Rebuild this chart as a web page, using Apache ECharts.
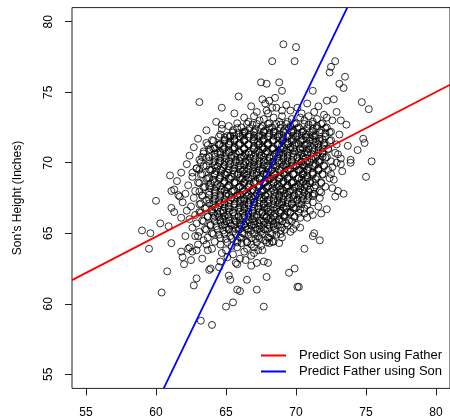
<!DOCTYPE html>
<html>
<head>
<meta charset="utf-8">
<script src="https://cdn.jsdelivr.net/npm/echarts@6/dist/echarts.min.js"></script>
<style>
  html, body { margin: 0; padding: 0; background: #fff; }
  #chart { width: 450px; height: 419px; }
</style>
</head>
<body>
<div id="chart"></div>
<script>
// father / son heights (inches)
const upperPoints = [
  [69.1, 78.4], [70.0, 78.2], [68.3, 77.2], [69.9, 77.2], [72.8, 77.2], [72.5, 76.8],
  [72.4, 76.4], [73.5, 76.1], [67.5, 75.7], [67.9, 75.6], [68.8, 75.7], [73.1, 75.6],
  [73.4, 75.3], [69.0, 75.1], [71.2, 75.1], [65.9, 74.7], [68.5, 74.6], [67.6, 74.5],
  [68.1, 74.4], [67.8, 74.2], [72.7, 74.5], [72.2, 74.4], [74.7, 74.3], [75.2, 73.8],
  [63.1, 74.3], [64.7, 73.9], [67.9, 73.7], [68.3, 73.9], [68.6, 73.9], [69.0, 73.7],
  [64.7, 72.7], [64.7, 72.4], [66.2, 72.1], [65.3, 71.9], [73.2, 73.0]
]
const rightPoints = [
  [74.8, 71.7], [74.9, 71.4], [74.4, 70.9], [73.9, 70.2], [73.9, 70.0], [75.4, 70.1],
  [75.0, 69.0], [73.2, 70.3], [73.2, 69.9], [72.6, 69.7], [72.5, 69.2], [73.0, 68.0],
  [73.4, 67.8], [72.8, 67.6], [71.2, 67.8], [71.8, 67.9], [72.2, 66.7], [71.8, 66.4],
  [71.2, 66.3], [70.8, 66.1], [70.3, 65.4], [71.3, 65.0], [71.2, 64.8], [71.7, 64.5],
  [70.6, 63.9], [70.2, 61.2]
]
const lowerPoints = [
  [68.8, 64.3], [69.0, 64.7], [68.3, 64.4], [69.9, 62.5], [69.5, 62.2], [70.1, 61.2],
  [67.9, 61.9], [67.2, 61.0], [67.7, 59.8], [65.0, 59.8], [65.5, 60.1], [64.0, 58.5],
  [65.8, 61.0], [66.0, 60.9], [66.5, 61.7], [65.2, 62.0], [65.3, 61.7], [63.9, 62.5],
  [64.5, 62.6], [65.8, 62.8], [66.8, 62.7], [67.2, 62.9], [67.7, 63.0], [68.0, 62.9],
  [67.6, 63.8], [67.0, 64.0]
]
const leftPoints = [
  [59.5, 63.9], [60.8, 62.3], [60.4, 60.8], [62.9, 61.8], [62.7, 61.3], [63.2, 58.8],
  [61.1, 64.3], [61.8, 63.7], [61.9, 63.3], [62.0, 62.8], [62.3, 63.9], [62.4, 64.0],
  [62.6, 63.7], [63.0, 64.2], [62.9, 63.8], [63.6, 64.2], [63.7, 63.8], [63.3, 63.2],
  [62.5, 63.1], [62.1, 64.8], [63.0, 64.8], [63.8, 62.4], [61.0, 69.1], [60.0, 67.3],
  [61.1, 68.0], [61.6, 67.7], [61.7, 67.6], [61.1, 66.8], [61.3, 66.5], [60.3, 65.7],
  [60.9, 65.5], [59.0, 65.2], [59.6, 65.0], [63.3, 70.4], [63.8, 70.9], [62.9, 69.6],
  [62.6, 69.3], [63.1, 69.5], [61.8, 66.1]
]
// dense middle of the cloud, outer layer
const coreOuter = [
  [66.8, 74.0], [69.3, 74.1], [70.1, 73.9], [71.6, 74.0], [70.8, 74.2],
  [65.6, 73.5], [67.2, 73.6], [68.0, 73.5], [69.6, 73.7], [70.4, 73.5], [71.3, 73.6], [72.0, 73.4], [72.9, 73.6],
  [66.3, 73.2], [67.0, 73.3], [67.7, 73.1], [68.4, 73.2], [69.0, 73.3], [69.7, 73.1], [70.3, 73.2], [70.9, 73.3], [71.5, 73.1], [72.2, 73.2],
  [64.3, 72.9], [65.8, 72.8], [66.6, 72.9], [67.4, 73.0], [68.1, 72.8], [68.8, 72.9], [69.4, 72.9], [70.0, 72.8], [70.6, 73.0], [71.2, 72.9], [71.9, 72.8], [72.6, 73.0],
  [65.2, 72.6], [66.1, 72.5], [66.9, 72.7], [67.6, 72.6], [68.3, 72.5], [68.9, 72.7], [69.6, 72.6], [70.2, 72.5], [70.9, 72.7], [71.5, 72.6], [72.2, 72.5], [73.6, 72.7],
  [63.6, 72.3], [65.5, 72.3], [66.4, 72.2], [67.1, 72.4], [67.8, 72.3], [68.5, 72.2], [69.2, 72.4], [69.8, 72.3], [70.5, 72.2], [71.2, 72.4], [71.8, 72.3], [72.5, 72.2],
  [64.6, 72.0], [65.1, 71.9], [65.9, 72.1], [66.7, 72.0], [67.4, 71.9], [68.1, 72.1], [68.8, 72.0], [69.4, 71.9], [70.1, 72.1], [70.7, 72.0], [71.4, 71.9], [72.1, 72.1], [73.1, 72.0],
  [63.0, 71.7], [64.0, 71.6], [64.9, 71.8], [65.6, 71.7], [66.3, 71.6], [67.0, 71.8], [67.7, 71.7], [68.4, 71.6], [69.1, 71.8], [69.7, 71.7], [70.4, 71.6], [71.0, 71.8], [71.7, 71.7], [72.5, 71.6],
  [63.6, 71.4], [64.5, 71.3], [65.3, 71.5], [66.0, 71.4], [66.6, 71.3], [67.3, 71.5], [68.0, 71.4], [68.7, 71.3], [69.4, 71.5], [70.0, 71.4], [70.7, 71.3], [71.4, 71.5], [72.0, 71.4], [72.9, 71.3],
  [62.7, 71.1], [64.1, 71.0], [64.8, 71.2], [65.6, 71.1], [66.3, 71.0], [67.0, 71.2], [67.6, 71.1], [68.3, 71.0], [69.0, 71.2], [69.6, 71.1], [70.3, 71.0], [71.0, 71.2], [71.6, 71.1], [72.3, 71.0], [73.7, 71.2],
  [63.4, 70.8], [64.4, 70.7], [65.2, 70.9], [65.9, 70.8], [66.6, 70.7], [67.3, 70.9], [67.9, 70.8], [68.6, 70.7], [69.3, 70.9], [69.9, 70.8], [70.6, 70.7], [71.3, 70.9], [71.9, 70.8], [72.8, 70.7],
  [62.4, 70.5], [63.8, 70.4], [64.6, 70.6], [65.4, 70.5], [66.1, 70.4], [66.8, 70.6], [67.5, 70.5], [68.1, 70.4], [68.8, 70.6], [69.4, 70.5], [70.1, 70.4], [70.8, 70.6], [71.5, 70.5], [72.2, 70.4], [73.0, 70.6],
  [63.1, 70.2], [64.2, 70.1], [65.0, 70.3], [65.7, 70.2], [66.4, 70.1], [67.1, 70.3], [67.7, 70.2], [68.4, 70.1], [69.1, 70.3], [69.7, 70.2], [70.4, 70.1], [71.1, 70.3], [71.7, 70.2], [72.5, 70.1],
  [62.2, 69.9], [63.6, 69.8], [64.5, 70.0], [65.3, 69.9], [66.0, 69.8], [66.7, 70.0], [67.3, 69.9], [68.0, 69.8], [68.7, 70.0], [69.3, 69.9], [70.0, 69.8], [70.7, 70.0], [71.4, 69.9], [72.0, 69.8], [72.9, 70.0],
  [62.9, 69.6], [64.0, 69.5], [64.8, 69.7], [65.6, 69.6], [66.3, 69.5], [67.0, 69.7], [67.6, 69.6], [68.3, 69.5], [69.0, 69.7], [69.6, 69.6], [70.3, 69.5], [70.9, 69.7], [71.6, 69.6], [72.3, 69.5],
  [61.8, 69.3], [63.3, 69.2], [64.3, 69.4], [65.1, 69.3], [65.9, 69.2], [66.5, 69.4], [67.2, 69.3], [67.9, 69.2], [68.5, 69.4], [69.2, 69.3], [69.8, 69.2], [70.5, 69.4], [71.2, 69.3], [71.9, 69.2], [73.3, 69.4],
  [62.6, 69.0], [63.7, 68.9], [64.6, 69.1], [65.4, 69.0], [66.2, 68.9], [66.9, 69.1], [67.5, 69.0], [68.2, 68.9], [68.9, 69.1], [69.5, 69.0], [70.2, 68.9], [70.8, 69.1], [71.5, 69.0], [72.4, 68.9],
  [61.5, 68.7], [63.0, 68.6], [64.1, 68.8], [64.9, 68.7], [65.7, 68.6], [66.4, 68.8], [67.1, 68.7], [67.8, 68.6], [68.4, 68.8], [69.1, 68.7], [69.7, 68.6], [70.4, 68.8], [71.0, 68.7], [71.8, 68.6], [72.7, 68.8],
  [62.3, 68.4], [63.5, 68.3], [64.4, 68.5], [65.2, 68.4], [66.0, 68.3], [66.7, 68.5], [67.4, 68.4], [68.0, 68.3], [68.7, 68.5], [69.4, 68.4], [70.0, 68.3], [70.7, 68.5], [71.4, 68.4], [72.1, 68.3],
  [61.3, 68.1], [62.8, 68.0], [63.9, 68.2], [64.7, 68.1], [65.5, 68.0], [66.2, 68.2], [66.9, 68.1], [67.6, 68.0], [68.3, 68.2], [68.9, 68.1], [69.6, 68.0], [70.3, 68.2], [71.0, 68.1], [71.7, 68.0], [72.6, 68.2],
  [62.1, 67.8], [63.3, 67.7], [64.2, 67.9], [65.0, 67.8], [65.8, 67.7], [66.5, 67.9], [67.2, 67.8], [67.8, 67.7], [68.5, 67.9], [69.2, 67.8], [69.9, 67.7], [70.6, 67.9], [71.3, 67.8],
  [62.7, 67.5], [63.8, 67.4], [64.6, 67.6], [65.4, 67.5], [66.1, 67.4], [66.8, 67.6], [67.5, 67.5], [68.1, 67.4], [68.8, 67.6], [69.5, 67.5], [70.1, 67.4], [70.9, 67.6], [71.7, 67.5],
  [61.9, 67.2], [63.2, 67.1], [64.1, 67.3], [64.9, 67.2], [65.6, 67.1], [66.3, 67.3], [67.0, 67.2], [67.7, 67.1], [68.4, 67.3], [69.0, 67.2], [69.7, 67.1], [70.4, 67.3], [71.2, 67.2],
  [62.5, 66.9], [63.6, 66.8], [64.5, 67.0], [65.2, 66.9], [66.0, 66.8], [66.6, 67.0], [67.3, 66.9], [68.0, 66.8], [68.7, 67.0], [69.3, 66.9], [70.0, 66.8], [70.8, 67.0], [71.6, 66.9],
  [62.2, 66.6], [63.1, 66.5], [64.0, 66.7], [64.8, 66.6], [65.5, 66.5], [66.3, 66.7], [66.9, 66.6], [67.6, 66.5], [68.2, 66.7], [68.9, 66.6], [69.6, 66.5], [70.3, 66.7], [71.0, 66.6],
  [62.8, 66.3], [63.7, 66.2], [64.4, 66.4], [65.1, 66.3], [65.9, 66.2], [66.6, 66.4], [67.2, 66.3], [67.9, 66.2], [68.5, 66.4], [69.2, 66.3], [69.9, 66.2], [70.6, 66.4],
  [62.4, 66.0], [63.3, 65.9], [64.1, 66.1], [64.8, 66.0], [65.6, 65.9], [66.2, 66.1], [66.9, 66.0], [67.5, 65.9], [68.2, 66.1], [68.8, 66.0], [69.5, 65.9], [70.3, 66.1],
  [62.9, 65.7], [63.9, 65.6], [64.6, 65.8], [65.3, 65.7], [66.0, 65.6], [66.7, 65.8], [67.3, 65.7], [68.0, 65.6], [68.6, 65.8], [69.3, 65.7], [70.0, 65.6],
  [62.6, 65.4], [63.5, 65.3], [64.3, 65.5], [65.0, 65.4], [65.7, 65.3], [66.4, 65.5], [67.1, 65.4], [67.7, 65.3], [68.4, 65.5], [69.0, 65.4], [69.8, 65.3],
  [63.1, 65.1], [64.0, 65.0], [64.8, 65.2], [65.5, 65.1], [66.2, 65.0], [66.8, 65.2], [67.5, 65.1], [68.2, 65.0], [68.9, 65.2], [69.6, 65.1],
  [62.8, 64.8], [63.7, 64.7], [64.5, 64.9], [65.3, 64.8], [66.0, 64.7], [66.6, 64.9], [67.3, 64.8], [68.0, 64.7], [68.6, 64.9],
  [63.4, 64.5], [64.2, 64.4], [65.0, 64.6], [65.8, 64.5], [66.5, 64.4], [67.1, 64.6], [67.8, 64.5], [68.4, 64.4],
  [64.6, 64.2], [65.4, 64.1], [66.1, 64.3], [66.8, 64.2], [67.5, 64.1], [68.1, 64.3],
  [64.0, 63.9], [65.0, 63.8], [65.8, 64.0], [66.5, 63.9], [67.3, 63.8],
  [64.7, 63.6], [65.5, 63.5], [66.3, 63.7], [67.0, 63.6],
  [65.1, 63.3], [66.0, 63.2], [66.8, 63.4],
  [64.6, 63.0], [65.7, 62.9], [66.4, 63.1]
]
// dense middle of the cloud, inner layer
const coreInner = [
  [66.5, 72.75], [67.2, 72.75], [68.0, 72.75], [68.6, 72.75], [69.3, 72.75], [69.9, 72.75], [70.6, 72.75], [71.2, 72.75], [71.8, 72.75],
  [65.8, 72.45], [66.7, 72.45], [67.5, 72.45], [68.1, 72.45], [68.9, 72.45], [69.5, 72.45], [70.1, 72.45], [70.8, 72.45], [71.5, 72.45], [72.1, 72.45],
  [65.5, 72.15], [66.3, 72.15], [67.0, 72.15], [67.7, 72.15], [68.4, 72.15], [69.1, 72.15], [69.7, 72.15], [70.4, 72.15], [71.0, 72.15], [71.7, 72.15], [72.4, 72.15],
  [64.5, 71.85], [65.3, 71.85], [66.0, 71.85], [66.6, 71.85], [67.3, 71.85], [68.0, 71.85], [68.7, 71.85], [69.4, 71.85], [70.0, 71.85], [70.7, 71.85], [71.3, 71.85], [72.1, 71.85],
  [64.1, 71.55], [64.9, 71.55], [65.6, 71.55], [66.3, 71.55], [67.0, 71.55], [67.6, 71.55], [68.3, 71.55], [69.0, 71.55], [69.7, 71.55], [70.3, 71.55], [71.0, 71.55], [71.7, 71.55], [72.4, 71.55],
  [63.7, 71.25], [64.5, 71.25], [65.2, 71.25], [65.9, 71.25], [66.6, 71.25], [67.3, 71.25], [68.0, 71.25], [68.7, 71.25], [69.3, 71.25], [69.9, 71.25], [70.6, 71.25], [71.3, 71.25], [72.0, 71.25],
  [63.9, 70.95], [64.8, 70.95], [65.5, 70.95], [66.3, 70.95], [67.0, 70.95], [67.6, 70.95], [68.3, 70.95], [68.9, 70.95], [69.6, 70.95], [70.3, 70.95], [70.9, 70.95], [71.6, 70.95], [72.3, 70.95],
  [63.4, 70.65], [64.2, 70.65], [65.0, 70.65], [65.7, 70.65], [66.4, 70.65], [67.1, 70.65], [67.8, 70.65], [68.5, 70.65], [69.1, 70.65], [69.8, 70.65], [70.4, 70.65], [71.1, 70.65], [71.9, 70.65],
  [63.6, 70.35], [64.6, 70.35], [65.4, 70.35], [66.0, 70.35], [66.7, 70.35], [67.4, 70.35], [68.1, 70.35], [68.7, 70.35], [69.4, 70.35], [70.1, 70.35], [70.7, 70.35], [71.4, 70.35], [72.1, 70.35],
  [63.2, 70.05], [64.1, 70.05], [64.9, 70.05], [65.7, 70.05], [66.4, 70.05], [67.0, 70.05], [67.7, 70.05], [68.3, 70.05], [69.0, 70.05], [69.7, 70.05], [70.4, 70.05], [71.0, 70.05], [71.7, 70.05],
  [63.4, 69.75], [64.4, 69.75], [65.2, 69.75], [65.9, 69.75], [66.7, 69.75], [67.3, 69.75], [67.9, 69.75], [68.6, 69.75], [69.3, 69.75], [70.0, 69.75], [70.6, 69.75], [71.3, 69.75], [72.0, 69.75],
  [63.9, 69.45], [64.7, 69.45], [65.5, 69.45], [66.2, 69.45], [66.9, 69.45], [67.6, 69.45], [68.2, 69.45], [68.9, 69.45], [69.5, 69.45], [70.2, 69.45], [70.8, 69.45], [71.6, 69.45],
  [63.2, 69.15], [64.2, 69.15], [65.0, 69.15], [65.8, 69.15], [66.5, 69.15], [67.2, 69.15], [67.9, 69.15], [68.5, 69.15], [69.2, 69.15], [69.8, 69.15], [70.5, 69.15], [71.2, 69.15], [71.9, 69.15],
  [63.6, 68.85], [64.5, 68.85], [65.3, 68.85], [66.1, 68.85], [66.8, 68.85], [67.4, 68.85], [68.1, 68.85], [68.8, 68.85], [69.4, 68.85], [70.1, 68.85], [70.7, 68.85], [71.4, 68.85],
  [63.1, 68.55], [63.9, 68.55], [64.8, 68.55], [65.6, 68.55], [66.3, 68.55], [67.0, 68.55], [67.7, 68.55], [68.4, 68.55], [69.0, 68.55], [69.7, 68.55], [70.3, 68.55], [71.0, 68.55], [71.8, 68.55],
  [63.4, 68.25], [64.3, 68.25], [65.1, 68.25], [65.9, 68.25], [66.6, 68.25], [67.3, 68.25], [67.9, 68.25], [68.6, 68.25], [69.3, 68.25], [69.9, 68.25], [70.6, 68.25], [71.3, 68.25],
  [63.1, 67.95], [63.8, 67.95], [64.6, 67.95], [65.4, 67.95], [66.2, 67.95], [66.8, 67.95], [67.5, 67.95], [68.2, 67.95], [68.9, 67.95], [69.5, 67.95], [70.2, 67.95], [70.9, 67.95],
  [63.3, 67.65], [64.2, 67.65], [65.0, 67.65], [65.8, 67.65], [66.5, 67.65], [67.1, 67.65], [67.8, 67.65], [68.5, 67.65], [69.1, 67.65], [69.8, 67.65], [70.5, 67.65], [71.2, 67.65],
  [63.6, 67.35], [64.5, 67.35], [65.3, 67.35], [66.0, 67.35], [66.7, 67.35], [67.4, 67.35], [68.0, 67.35], [68.7, 67.35], [69.4, 67.35], [70.1, 67.35], [70.8, 67.35],
  [63.1, 67.05], [64.1, 67.05], [64.9, 67.05], [65.6, 67.05], [66.3, 67.05], [67.0, 67.05], [67.7, 67.05], [68.4, 67.05], [69.0, 67.05], [69.7, 67.05], [70.4, 67.05],
  [63.5, 66.75], [64.4, 66.75], [65.2, 66.75], [65.9, 66.75], [66.6, 66.75], [67.3, 66.75], [67.9, 66.75], [68.6, 66.75], [69.3, 66.75], [69.9, 66.75], [70.6, 66.75],
  [63.2, 66.45], [64.1, 66.45], [64.8, 66.45], [65.5, 66.45], [66.2, 66.45], [66.9, 66.45], [67.6, 66.45], [68.2, 66.45], [68.9, 66.45], [69.6, 66.45], [70.2, 66.45],
  [63.7, 66.15], [64.5, 66.15], [65.2, 66.15], [65.9, 66.15], [66.6, 66.15], [67.2, 66.15], [67.9, 66.15], [68.5, 66.15], [69.2, 66.15], [69.9, 66.15],
  [63.4, 65.85], [64.2, 65.85], [65.0, 65.85], [65.7, 65.85], [66.4, 65.85], [67.0, 65.85], [67.7, 65.85], [68.3, 65.85], [69.0, 65.85], [69.7, 65.85],
  [63.9, 65.55], [64.7, 65.55], [65.4, 65.55], [66.1, 65.55], [66.8, 65.55], [67.4, 65.55], [68.1, 65.55], [68.7, 65.55], [69.4, 65.55],
  [63.6, 65.25], [64.4, 65.25], [65.2, 65.25], [65.9, 65.25], [66.5, 65.25], [67.2, 65.25], [67.8, 65.25], [68.5, 65.25], [69.2, 65.25],
  [64.1, 64.95], [64.9, 64.95], [65.7, 64.95], [66.3, 64.95], [67.0, 64.95], [67.6, 64.95], [68.3, 64.95], [68.9, 64.95],
  [64.6, 64.65], [65.4, 64.65], [66.1, 64.65], [66.8, 64.65], [67.4, 64.65], [68.1, 64.65],
  [65.1, 64.35], [65.8, 64.35], [66.5, 64.35], [67.2, 64.35], [67.9, 64.35]
]
// the darkest centre: [son height, father heights in that row]
const coreCenterRows = [
  [72.22, [66.3, 67.0, 67.7, 68.4, 69.1, 69.8, 70.5, 71.2]],
  [71.92, [65.6, 66.2, 67.0, 67.6, 68.4, 69.0, 69.8, 70.4, 71.2]],
  [71.62, [64.9, 65.6, 66.3, 67.0, 67.7, 68.4, 69.1, 69.8, 70.5, 71.2, 71.9]],
  [71.32, [64.6, 65.2, 66.0, 66.6, 67.4, 68.0, 68.8, 69.4, 70.2, 70.8, 71.6]],
  [71.02, [64.2, 64.9, 65.6, 66.3, 67.0, 67.7, 68.4, 69.1, 69.8, 70.5, 71.2, 71.9]],
  [70.72, [64.6, 65.2, 66.0, 66.6, 67.4, 68.0, 68.8, 69.4, 70.2, 70.8, 71.6]],
  [70.42, [64.2, 64.9, 65.6, 66.3, 67.0, 67.7, 68.4, 69.1, 69.8, 70.5, 71.2, 71.9]],
  [70.12, [63.8, 64.6, 65.2, 66.0, 66.6, 67.4, 68.0, 68.8, 69.4, 70.2, 70.8, 71.6]],
  [69.82, [64.2, 64.9, 65.6, 66.3, 67.0, 67.7, 68.4, 69.1, 69.8, 70.5, 71.2]],
  [69.52, [63.8, 64.6, 65.2, 66.0, 66.6, 67.4, 68.0, 68.8, 69.4, 70.2, 70.8, 71.6]],
  [69.22, [64.2, 64.9, 65.6, 66.3, 67.0, 67.7, 68.4, 69.1, 69.8, 70.5, 71.2]],
  [68.92, [63.8, 64.6, 65.2, 66.0, 66.6, 67.4, 68.0, 68.8, 69.4, 70.2, 70.8]],
  [68.62, [64.2, 64.9, 65.6, 66.3, 67.0, 67.7, 68.4, 69.1, 69.8, 70.5, 71.2]],
  [68.32, [63.8, 64.6, 65.2, 66.0, 66.6, 67.4, 68.0, 68.8, 69.4, 70.2, 70.8]],
  [68.02, [64.2, 64.9, 65.6, 66.3, 67.0, 67.7, 68.4, 69.1, 69.8, 70.5]],
  [67.72, [63.8, 64.6, 65.2, 66.0, 66.6, 67.4, 68.0, 68.8, 69.4, 70.2, 70.8]],
  [67.42, [64.2, 64.9, 65.6, 66.3, 67.0, 67.7, 68.4, 69.1, 69.8, 70.5]],
  [67.12, [63.8, 64.6, 65.2, 66.0, 66.6, 67.4, 68.0, 68.8, 69.4, 70.2]],
  [66.82, [64.2, 64.9, 65.6, 66.3, 67.0, 67.7, 68.4, 69.1, 69.8]],
  [66.52, [64.0, 64.6, 65.2, 66.0, 66.6, 67.4, 68.0, 68.8, 69.4]],
  [66.22, [64.2, 64.9, 65.6, 66.3, 67.0, 67.7, 68.4, 69.1]],
  [65.92, [64.6, 65.2, 66.0, 66.6, 67.4, 68.0, 68.8]],
  [65.62, [64.9, 65.6, 66.3, 67.0, 67.7, 68.4]],
  [65.32, [65.2, 66.0, 66.6, 67.4, 68.0]]
]
// regression lines, end points where they leave the plot
const sonOnFather = [[54, 61.68], [81, 75.53]]
const fatherOnSon = [[60.55, 54], [73.66, 81]]
const tickValues = [55, 60, 65, 70, 75, 80]

const coreCenter = []
coreCenterRows.forEach(function(row) {
  row[1].forEach(function(f) { coreCenter.push([f, row[0]]) })
})
const allPoints = upperPoints.concat(rightPoints, lowerPoints, leftPoints, coreOuter, coreInner, coreCenter)

const font = 'Liberation Sans, Arial, Helvetica, sans-serif'
const axisCommon = {
  type: 'value',
  min: 54,
  max: 81,
  splitLine: { show: false },
  axisLine: { show: false },
  axisTick: { show: true, length: 7, customValues: tickValues, lineStyle: { color: '#222' } },
  axisLabel: { customValues: tickValues, color: '#000', fontSize: 12, fontFamily: font }
}

const option = {
  animation: false,
  backgroundColor: '#fff',
  grid: { left: 72, top: 7.6, right: -2.8, bottom: 30.6, show: true, borderColor: '#222', borderWidth: 1 },
  xAxis: Object.assign({}, axisCommon, {
    axisLabel: Object.assign({}, axisCommon.axisLabel, { margin: 18 })
  }),
  yAxis: Object.assign({}, axisCommon, {
    name: "Son's Height (Inches)",
    nameLocation: 'middle',
    nameGap: 48,
    nameTextStyle: { color: '#000', fontSize: 12, fontFamily: font },
    axisLabel: Object.assign({}, axisCommon.axisLabel, { rotate: 90, margin: 17 })
  }),
  legend: {
    orient: 'vertical',
    left: 260,
    top: 349,
    padding: 0,
    itemWidth: 25,
    itemHeight: 14,
    itemGap: 3,
    itemStyle: { opacity: 0, color: 'rgba(0,0,0,0)', borderWidth: 0 },
    lineStyle: { width: 2 },
    textStyle: { fontSize: 13, color: '#000', fontFamily: font, padding: [0, 0, 0, 8] },
    data: ['Predict Son using Father', 'Predict Father using Son']
  },
  series: [
    {
      name: 'points',
      type: 'scatter',
      symbol: 'circle',
      symbolSize: 7,
      silent: true,
      itemStyle: { color: 'rgba(0,0,0,0)', borderColor: '#000', borderWidth: 1 },
      data: allPoints
    },
    {
      name: 'Predict Son using Father',
      type: 'line',
      symbol: 'none',
      color: '#ff0000',
      lineStyle: { color: '#ff0000', width: 1.8 },
      data: sonOnFather
    },
    {
      name: 'Predict Father using Son',
      type: 'line',
      symbol: 'none',
      color: '#0000ff',
      lineStyle: { color: '#0000ff', width: 1.8 },
      data: fatherOnSon
    }
  ]
}

const myChart = echarts.init(document.getElementById('chart'))
myChart.setOption(option)
</script>
</body>
</html>
